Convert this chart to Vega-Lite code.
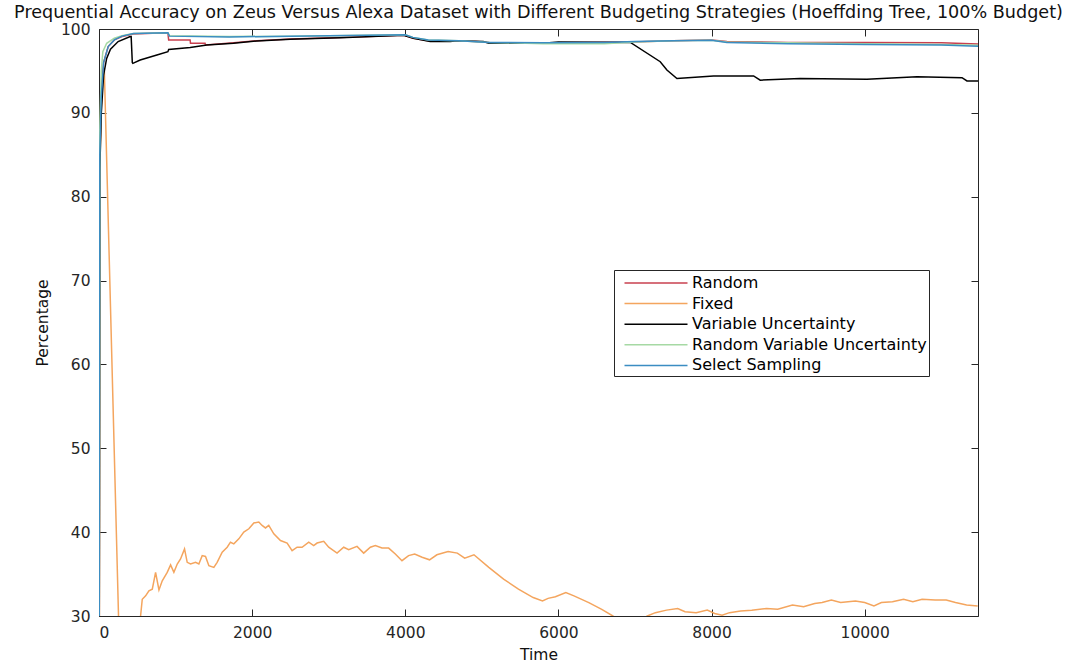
{
  "$schema": "https://vega.github.io/schema/vega-lite/v6.json",
  "width": 879,
  "height": 587,
  "autosize": {"type": "none"},
  "padding": {"left": 99, "top": 29, "right": 95, "bottom": 48},
  "title": {
    "text": "Prequential Accuracy on Zeus Versus Alexa Dataset with Different Budgeting Strategies (Hoeffding Tree, 100% Budget)",
    "font": "DejaVu Sans",
    "fontSize": 17.6,
    "fontWeight": "normal",
    "color": "#111111",
    "anchor": "middle",
    "offset": 0
  },
  "data": {
    "values": [
      {"s": "Random", "t": 0, "v": 0},
      {"s": "Random", "t": 10, "v": 84},
      {"s": "Random", "t": 30, "v": 92},
      {"s": "Random", "t": 60, "v": 96},
      {"s": "Random", "t": 120, "v": 97.9},
      {"s": "Random", "t": 200, "v": 98.7},
      {"s": "Random", "t": 300, "v": 99.1},
      {"s": "Random", "t": 450, "v": 99.4},
      {"s": "Random", "t": 700, "v": 99.5},
      {"s": "Random", "t": 900, "v": 99.5},
      {"s": "Random", "t": 910, "v": 98.7},
      {"s": "Random", "t": 1190, "v": 98.7},
      {"s": "Random", "t": 1195, "v": 98.3},
      {"s": "Random", "t": 1385, "v": 98.3},
      {"s": "Random", "t": 1390, "v": 98.1},
      {"s": "Random", "t": 1760, "v": 98.35},
      {"s": "Random", "t": 2060, "v": 98.6},
      {"s": "Random", "t": 2500, "v": 98.8},
      {"s": "Random", "t": 3150, "v": 98.98},
      {"s": "Random", "t": 3980, "v": 99.25},
      {"s": "Random", "t": 4100, "v": 98.9},
      {"s": "Random", "t": 4330, "v": 98.55},
      {"s": "Random", "t": 4700, "v": 98.6},
      {"s": "Random", "t": 5050, "v": 98.45},
      {"s": "Random", "t": 5100, "v": 98.35},
      {"s": "Random", "t": 5800, "v": 98.35},
      {"s": "Random", "t": 6000, "v": 98.35},
      {"s": "Random", "t": 6950, "v": 98.45},
      {"s": "Random", "t": 7500, "v": 98.6},
      {"s": "Random", "t": 8000, "v": 98.7},
      {"s": "Random", "t": 8200, "v": 98.5},
      {"s": "Random", "t": 9000, "v": 98.4},
      {"s": "Random", "t": 10000, "v": 98.4},
      {"s": "Random", "t": 11000, "v": 98.35},
      {"s": "Random", "t": 11480, "v": 98.2},

      {"s": "Fixed", "t": 0, "v": 0},
      {"s": "Fixed", "t": 15, "v": 85},
      {"s": "Fixed", "t": 40, "v": 94},
      {"s": "Fixed", "t": 70, "v": 95},
      {"s": "Fixed", "t": 255, "v": 30},
      {"s": "Fixed", "t": 330, "v": 24},
      {"s": "Fixed", "t": 450, "v": 26},
      {"s": "Fixed", "t": 520, "v": 28.5},
      {"s": "Fixed", "t": 543, "v": 30.0},
      {"s": "Fixed", "t": 565, "v": 32.0},
      {"s": "Fixed", "t": 609, "v": 32.4},
      {"s": "Fixed", "t": 652, "v": 33.0},
      {"s": "Fixed", "t": 696, "v": 33.2},
      {"s": "Fixed", "t": 739, "v": 35.2},
      {"s": "Fixed", "t": 783, "v": 33.1},
      {"s": "Fixed", "t": 826, "v": 34.2},
      {"s": "Fixed", "t": 891, "v": 35.2},
      {"s": "Fixed", "t": 935, "v": 36.1},
      {"s": "Fixed", "t": 978, "v": 35.2},
      {"s": "Fixed", "t": 1022, "v": 36.2},
      {"s": "Fixed", "t": 1065, "v": 36.8},
      {"s": "Fixed", "t": 1117, "v": 38.0},
      {"s": "Fixed", "t": 1152, "v": 36.4},
      {"s": "Fixed", "t": 1196, "v": 36.2},
      {"s": "Fixed", "t": 1261, "v": 36.4},
      {"s": "Fixed", "t": 1304, "v": 36.2},
      {"s": "Fixed", "t": 1348, "v": 37.2},
      {"s": "Fixed", "t": 1391, "v": 37.1},
      {"s": "Fixed", "t": 1435, "v": 36.0},
      {"s": "Fixed", "t": 1500, "v": 35.8},
      {"s": "Fixed", "t": 1543, "v": 36.4},
      {"s": "Fixed", "t": 1609, "v": 37.6},
      {"s": "Fixed", "t": 1674, "v": 38.2},
      {"s": "Fixed", "t": 1717, "v": 38.8},
      {"s": "Fixed", "t": 1761, "v": 38.6},
      {"s": "Fixed", "t": 1826, "v": 39.2},
      {"s": "Fixed", "t": 1891, "v": 40.0},
      {"s": "Fixed", "t": 1957, "v": 40.4},
      {"s": "Fixed", "t": 2022, "v": 41.1},
      {"s": "Fixed", "t": 2087, "v": 41.2},
      {"s": "Fixed", "t": 2130, "v": 40.8},
      {"s": "Fixed", "t": 2174, "v": 40.5},
      {"s": "Fixed", "t": 2217, "v": 40.8},
      {"s": "Fixed", "t": 2283, "v": 39.8},
      {"s": "Fixed", "t": 2370, "v": 39.0},
      {"s": "Fixed", "t": 2457, "v": 38.7},
      {"s": "Fixed", "t": 2522, "v": 37.8},
      {"s": "Fixed", "t": 2587, "v": 38.2},
      {"s": "Fixed", "t": 2652, "v": 38.2},
      {"s": "Fixed", "t": 2739, "v": 38.8},
      {"s": "Fixed", "t": 2804, "v": 38.4},
      {"s": "Fixed", "t": 2848, "v": 38.7},
      {"s": "Fixed", "t": 2935, "v": 38.9},
      {"s": "Fixed", "t": 3000, "v": 38.2},
      {"s": "Fixed", "t": 3109, "v": 37.5},
      {"s": "Fixed", "t": 3196, "v": 38.2},
      {"s": "Fixed", "t": 3261, "v": 37.9},
      {"s": "Fixed", "t": 3370, "v": 38.3},
      {"s": "Fixed", "t": 3457, "v": 37.5},
      {"s": "Fixed", "t": 3544, "v": 38.2},
      {"s": "Fixed", "t": 3609, "v": 38.4},
      {"s": "Fixed", "t": 3696, "v": 38.1},
      {"s": "Fixed", "t": 3783, "v": 38.1},
      {"s": "Fixed", "t": 3870, "v": 37.4},
      {"s": "Fixed", "t": 3957, "v": 36.6},
      {"s": "Fixed", "t": 4043, "v": 37.2},
      {"s": "Fixed", "t": 4123, "v": 37.4},
      {"s": "Fixed", "t": 4220, "v": 37.0},
      {"s": "Fixed", "t": 4317, "v": 36.7},
      {"s": "Fixed", "t": 4413, "v": 37.3},
      {"s": "Fixed", "t": 4559, "v": 37.7},
      {"s": "Fixed", "t": 4680, "v": 37.5},
      {"s": "Fixed", "t": 4776, "v": 36.9},
      {"s": "Fixed", "t": 4897, "v": 37.3},
      {"s": "Fixed", "t": 5091, "v": 35.8},
      {"s": "Fixed", "t": 5284, "v": 34.4},
      {"s": "Fixed", "t": 5478, "v": 33.2},
      {"s": "Fixed", "t": 5671, "v": 32.2},
      {"s": "Fixed", "t": 5792, "v": 31.8},
      {"s": "Fixed", "t": 5865, "v": 32.1},
      {"s": "Fixed", "t": 5961, "v": 32.3},
      {"s": "Fixed", "t": 6097, "v": 32.8},
      {"s": "Fixed", "t": 6203, "v": 32.4},
      {"s": "Fixed", "t": 6397, "v": 31.6},
      {"s": "Fixed", "t": 6566, "v": 30.8},
      {"s": "Fixed", "t": 6711, "v": 30.0},
      {"s": "Fixed", "t": 6940, "v": 28.8},
      {"s": "Fixed", "t": 7161, "v": 30.0},
      {"s": "Fixed", "t": 7267, "v": 30.4},
      {"s": "Fixed", "t": 7412, "v": 30.7},
      {"s": "Fixed", "t": 7558, "v": 30.9},
      {"s": "Fixed", "t": 7654, "v": 30.5},
      {"s": "Fixed", "t": 7799, "v": 30.4},
      {"s": "Fixed", "t": 7944, "v": 30.7},
      {"s": "Fixed", "t": 8041, "v": 30.3},
      {"s": "Fixed", "t": 8138, "v": 30.1},
      {"s": "Fixed", "t": 8235, "v": 30.4},
      {"s": "Fixed", "t": 8380, "v": 30.6},
      {"s": "Fixed", "t": 8525, "v": 30.7},
      {"s": "Fixed", "t": 8718, "v": 30.9},
      {"s": "Fixed", "t": 8864, "v": 30.8},
      {"s": "Fixed", "t": 9057, "v": 31.3},
      {"s": "Fixed", "t": 9202, "v": 31.1},
      {"s": "Fixed", "t": 9347, "v": 31.5},
      {"s": "Fixed", "t": 9444, "v": 31.6},
      {"s": "Fixed", "t": 9565, "v": 31.9},
      {"s": "Fixed", "t": 9686, "v": 31.6},
      {"s": "Fixed", "t": 9879, "v": 31.8},
      {"s": "Fixed", "t": 10000, "v": 31.6},
      {"s": "Fixed", "t": 10121, "v": 31.2},
      {"s": "Fixed", "t": 10218, "v": 31.6},
      {"s": "Fixed", "t": 10363, "v": 31.7},
      {"s": "Fixed", "t": 10508, "v": 32.0},
      {"s": "Fixed", "t": 10629, "v": 31.7},
      {"s": "Fixed", "t": 10750, "v": 32.0},
      {"s": "Fixed", "t": 10920, "v": 31.9},
      {"s": "Fixed", "t": 11065, "v": 31.9},
      {"s": "Fixed", "t": 11186, "v": 31.6},
      {"s": "Fixed", "t": 11331, "v": 31.3},
      {"s": "Fixed", "t": 11476, "v": 31.2},

      {"s": "Variable Uncertainty", "t": 0, "v": 0},
      {"s": "Variable Uncertainty", "t": 10, "v": 83},
      {"s": "Variable Uncertainty", "t": 30, "v": 90},
      {"s": "Variable Uncertainty", "t": 60, "v": 94.5},
      {"s": "Variable Uncertainty", "t": 100, "v": 96.5},
      {"s": "Variable Uncertainty", "t": 150, "v": 97.6},
      {"s": "Variable Uncertainty", "t": 250, "v": 98.5},
      {"s": "Variable Uncertainty", "t": 400, "v": 99.08},
      {"s": "Variable Uncertainty", "t": 420, "v": 99.1},
      {"s": "Variable Uncertainty", "t": 435, "v": 96.0},
      {"s": "Variable Uncertainty", "t": 442, "v": 95.9},
      {"s": "Variable Uncertainty", "t": 538, "v": 96.3},
      {"s": "Variable Uncertainty", "t": 756, "v": 96.9},
      {"s": "Variable Uncertainty", "t": 900, "v": 97.3},
      {"s": "Variable Uncertainty", "t": 910, "v": 97.55},
      {"s": "Variable Uncertainty", "t": 1191, "v": 97.8},
      {"s": "Variable Uncertainty", "t": 1409, "v": 98.1},
      {"s": "Variable Uncertainty", "t": 1757, "v": 98.3},
      {"s": "Variable Uncertainty", "t": 2062, "v": 98.57},
      {"s": "Variable Uncertainty", "t": 2497, "v": 98.77},
      {"s": "Variable Uncertainty", "t": 3150, "v": 98.97},
      {"s": "Variable Uncertainty", "t": 3980, "v": 99.25},
      {"s": "Variable Uncertainty", "t": 4108, "v": 98.9},
      {"s": "Variable Uncertainty", "t": 4326, "v": 98.5},
      {"s": "Variable Uncertainty", "t": 4587, "v": 98.5},
      {"s": "Variable Uncertainty", "t": 4675, "v": 98.6},
      {"s": "Variable Uncertainty", "t": 5020, "v": 98.5},
      {"s": "Variable Uncertainty", "t": 5090, "v": 98.3},
      {"s": "Variable Uncertainty", "t": 5800, "v": 98.3},
      {"s": "Variable Uncertainty", "t": 6000, "v": 98.45},
      {"s": "Variable Uncertainty", "t": 6940, "v": 98.4},
      {"s": "Variable Uncertainty", "t": 7330, "v": 96.1},
      {"s": "Variable Uncertainty", "t": 7417, "v": 95.1},
      {"s": "Variable Uncertainty", "t": 7548, "v": 94.1},
      {"s": "Variable Uncertainty", "t": 8026, "v": 94.4},
      {"s": "Variable Uncertainty", "t": 8549, "v": 94.4},
      {"s": "Variable Uncertainty", "t": 8636, "v": 93.9},
      {"s": "Variable Uncertainty", "t": 9158, "v": 94.1},
      {"s": "Variable Uncertainty", "t": 10030, "v": 94.0},
      {"s": "Variable Uncertainty", "t": 10683, "v": 94.3},
      {"s": "Variable Uncertainty", "t": 11271, "v": 94.2},
      {"s": "Variable Uncertainty", "t": 11336, "v": 93.8},
      {"s": "Variable Uncertainty", "t": 11480, "v": 93.8},

      {"s": "Random Variable Uncertainty", "t": 0, "v": 0},
      {"s": "Random Variable Uncertainty", "t": 10, "v": 88},
      {"s": "Random Variable Uncertainty", "t": 30, "v": 95},
      {"s": "Random Variable Uncertainty", "t": 50, "v": 97.3},
      {"s": "Random Variable Uncertainty", "t": 100, "v": 98.3},
      {"s": "Random Variable Uncertainty", "t": 200, "v": 98.9},
      {"s": "Random Variable Uncertainty", "t": 300, "v": 99.2},
      {"s": "Random Variable Uncertainty", "t": 450, "v": 99.45},
      {"s": "Random Variable Uncertainty", "t": 900, "v": 99.55},
      {"s": "Random Variable Uncertainty", "t": 920, "v": 99.2},
      {"s": "Random Variable Uncertainty", "t": 1700, "v": 99.1},
      {"s": "Random Variable Uncertainty", "t": 2500, "v": 99.15},
      {"s": "Random Variable Uncertainty", "t": 3500, "v": 99.25},
      {"s": "Random Variable Uncertainty", "t": 4000, "v": 99.3},
      {"s": "Random Variable Uncertainty", "t": 4100, "v": 99.0},
      {"s": "Random Variable Uncertainty", "t": 4300, "v": 98.7},
      {"s": "Random Variable Uncertainty", "t": 4700, "v": 98.6},
      {"s": "Random Variable Uncertainty", "t": 5100, "v": 98.4},
      {"s": "Random Variable Uncertainty", "t": 5800, "v": 98.25},
      {"s": "Random Variable Uncertainty", "t": 6600, "v": 98.25},
      {"s": "Random Variable Uncertainty", "t": 7000, "v": 98.45},
      {"s": "Random Variable Uncertainty", "t": 7500, "v": 98.6},
      {"s": "Random Variable Uncertainty", "t": 8000, "v": 98.65},
      {"s": "Random Variable Uncertainty", "t": 8200, "v": 98.45},
      {"s": "Random Variable Uncertainty", "t": 9000, "v": 98.35},
      {"s": "Random Variable Uncertainty", "t": 10000, "v": 98.25},
      {"s": "Random Variable Uncertainty", "t": 11000, "v": 98.15},
      {"s": "Random Variable Uncertainty", "t": 11480, "v": 98.05},

      {"s": "Select Sampling", "t": 0, "v": 0},
      {"s": "Select Sampling", "t": 10, "v": 85},
      {"s": "Select Sampling", "t": 30, "v": 92},
      {"s": "Select Sampling", "t": 60, "v": 96},
      {"s": "Select Sampling", "t": 120, "v": 97.9},
      {"s": "Select Sampling", "t": 200, "v": 98.7},
      {"s": "Select Sampling", "t": 300, "v": 99.15},
      {"s": "Select Sampling", "t": 450, "v": 99.45},
      {"s": "Select Sampling", "t": 900, "v": 99.55},
      {"s": "Select Sampling", "t": 920, "v": 99.15},
      {"s": "Select Sampling", "t": 1700, "v": 99.05},
      {"s": "Select Sampling", "t": 2500, "v": 99.15},
      {"s": "Select Sampling", "t": 3500, "v": 99.25},
      {"s": "Select Sampling", "t": 4000, "v": 99.3},
      {"s": "Select Sampling", "t": 4100, "v": 99.0},
      {"s": "Select Sampling", "t": 4300, "v": 98.7},
      {"s": "Select Sampling", "t": 4700, "v": 98.6},
      {"s": "Select Sampling", "t": 5100, "v": 98.4},
      {"s": "Select Sampling", "t": 5800, "v": 98.35},
      {"s": "Select Sampling", "t": 6600, "v": 98.4},
      {"s": "Select Sampling", "t": 7000, "v": 98.5},
      {"s": "Select Sampling", "t": 7500, "v": 98.6},
      {"s": "Select Sampling", "t": 8000, "v": 98.65},
      {"s": "Select Sampling", "t": 8200, "v": 98.4},
      {"s": "Select Sampling", "t": 9000, "v": 98.25},
      {"s": "Select Sampling", "t": 10000, "v": 98.15},
      {"s": "Select Sampling", "t": 11000, "v": 98.1},
      {"s": "Select Sampling", "t": 11480, "v": 97.95}
    ]
  },
  "layer": [
    {
      "mark": {"type": "line", "clip": true, "strokeWidth": 1.5},
      "encoding": {
        "x": {
          "field": "t",
          "type": "quantitative",
          "scale": {"domain": [0, 11480], "nice": false, "zero": false},
          "axis": {
            "orient": "bottom",
            "title": "Time",
            "values": [0, 2000, 4000, 6000, 8000, 10000],
            "format": "d",
            "tickSize": -7,
            "labelPadding": 16,
            "titlePadding": 7,
            "domain": false
          }
        },
        "y": {
          "field": "v",
          "type": "quantitative",
          "scale": {"domain": [30, 100], "nice": false, "zero": false},
          "axis": {
            "orient": "left",
            "title": "Percentage",
            "values": [30, 40, 50, 60, 70, 80, 90, 100],
            "format": "d",
            "tickSize": -7,
            "labelPadding": 16,
            "titlePadding": 10,
            "domain": false
          }
        },
        "color": {
          "field": "s",
          "type": "nominal",
          "scale": {
            "domain": ["Random", "Fixed", "Variable Uncertainty", "Random Variable Uncertainty", "Select Sampling"],
            "range": ["#C9404F", "#F4A55E", "#000000", "#A6D9A4", "#3B8DC2"]
          },
          "legend": {
            "orient": "none",
            "legendX": 515,
            "legendY": 241,
            "title": null,
            "strokeColor": "#262626",
            "fillColor": "#FFFFFF",
            "padding": 2,
            "symbolType": "M-3.15,0H3.15",
            "symbolSize": 400,
            "symbolStrokeWidth": 1.5,
            "symbolOffset": 29,
            "labelOffset": 25,
            "rowPadding": 1.6,
            "labelFont": "DejaVu Sans",
            "labelFontSize": 16,
            "labelColor": "#000000",
            "labelLimit": 400
          }
        }
      }
    },
    {
      "mark": {"type": "line", "clip": true, "opacity": 0},
      "encoding": {
        "x": {
          "field": "t",
          "type": "quantitative",
          "scale": {"domain": [0, 11480], "nice": false, "zero": false},
          "axis": {
            "orient": "top",
            "title": null,
            "labels": false,
            "values": [0, 2000, 4000, 6000, 8000, 10000],
            "tickSize": -7,
            "domain": false
          }
        },
        "y": {
          "field": "v",
          "type": "quantitative",
          "scale": {"domain": [30, 100], "nice": false, "zero": false},
          "axis": {
            "orient": "right",
            "title": null,
            "labels": false,
            "values": [30, 40, 50, 60, 70, 80, 90, 100],
            "tickSize": -7,
            "domain": false
          }
        },
        "detail": {"field": "s", "type": "nominal"}
      }
    }
  ],
  "resolve": {"axis": {"x": "independent", "y": "independent"}},
  "config": {
    "view": {"stroke": "#262626", "strokeWidth": 1},
    "axis": {
      "grid": false,
      "tickColor": "#262626",
      "tickWidth": 1,
      "labelFont": "DejaVu Sans",
      "labelFontSize": 15.5,
      "labelColor": "#262626",
      "titleFont": "DejaVu Sans",
      "titleFontSize": 15.5,
      "titleFontWeight": "normal",
      "titleColor": "#111111"
    }
  }
}
